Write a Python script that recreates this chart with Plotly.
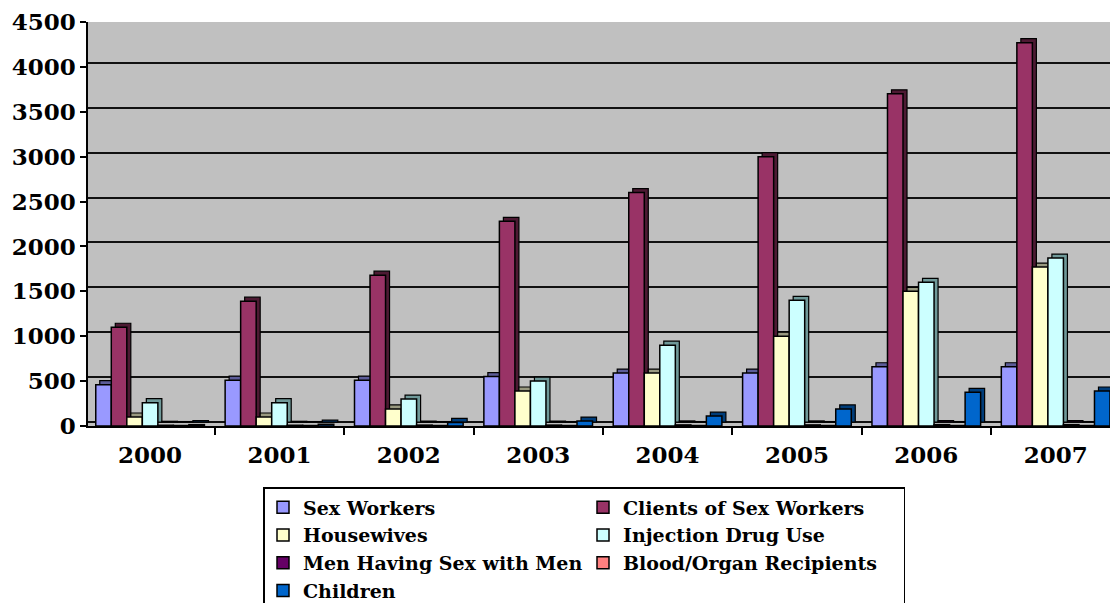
import plotly.graph_objects as go

# ---------------- data ----------------
years = ["2000", "2001", "2002", "2003", "2004", "2005", "2006", "2007"]
sex_workers = [460, 510, 510, 550, 590, 590, 660, 660]
clients_of_sex_workers = [1100, 1390, 1680, 2280, 2600, 3000, 3700, 4270]
housewives = [100, 100, 190, 390, 590, 1000, 1500, 1770]
injection_drug_use = [260, 260, 300, 500, 900, 1400, 1600, 1870]
men_having_sex_with_men = [8, 8, 10, 10, 12, 12, 15, 15]
blood_organ_recipients = [5, 5, 5, 5, 5, 5, 5, 5]
children = [15, 20, 40, 55, 110, 190, 375, 390]
y_tick_values = [0, 500, 1000, 1500, 2000, 2500, 3000, 3500, 4000, 4500]

series_names = ["Sex Workers", "Clients of Sex Workers", "Housewives",
                "Injection Drug Use", "Men Having Sex with Men",
                "Blood/Organ Recipients", "Children"]
series_values = [sex_workers, clients_of_sex_workers, housewives,
                 injection_drug_use, men_having_sex_with_men,
                 blood_organ_recipients, children]

# ---------------- styles ----------------
face_colors = ["#9999FF", "#993366", "#FFFFCC", "#CCFFFF", "#660066", "#FF8080", "#0066CC"]
side_colors = ["#5C5C99", "#4D1A33", "#999980", "#6F9999", "#330033", "#994D4D", "#003D7A"]
legend_groups = ["c1", "c2", "c1", "c2", "c1", "c2", "c1"]

W, H = 1110, 603
L, T, B, R = 88, 22, 177, 0
plot_w = W - L - R
plot_h = H - T - B
x_range = [-0.48, 7.42]
y_range = [0, 4500]
depth_px = 4
dx = depth_px * (x_range[1] - x_range[0]) / plot_w
dy = depth_px * (y_range[1] - y_range[0]) / plot_h

FONT = "DejaVu Serif"

fig = go.Figure()

# depth (side/top faces) drawn on the base axes, shifted back
for name, vals, col in zip(series_names, series_values, side_colors):
    fig.add_trace(go.Bar(
        x=years, y=vals, name=name, showlegend=False, hoverinfo="skip",
        marker=dict(color=col, line=dict(color="black", width=1.2)),
        xaxis="x", yaxis="y",
    ))

# front faces on the overlaying axes
for name, vals, col, grp in zip(series_names, series_values, face_colors, legend_groups):
    fig.add_trace(go.Bar(
        x=years, y=vals, name=name, legendgroup=grp,
        marker=dict(color=col, line=dict(color="black", width=1.5)),
        xaxis="x2", yaxis="y2",
    ))

fig.update_layout(
    width=W, height=H,
    margin=dict(l=L, r=R, t=T, b=B, pad=0, autoexpand=False),
    paper_bgcolor="white",
    plot_bgcolor="#C0C0C0",
    barmode="group", bargap=0.16, bargroupgap=0.0,
    showlegend=True,
    font=dict(family=FONT, color="black"),
    xaxis=dict(
        type="category", categoryorder="array", categoryarray=years,
        range=[x_range[0] - dx, x_range[1] - dx],
        visible=False, fixedrange=True,
    ),
    yaxis=dict(
        range=[y_range[0] - dy, y_range[1] - dy],
        tickvals=y_tick_values, showticklabels=False, ticks="",
        showgrid=True, gridcolor="#111111", gridwidth=2,
        zeroline=False, showline=False, fixedrange=True,
    ),
    xaxis2=dict(
        type="category", categoryorder="array", categoryarray=years,
        range=x_range, overlaying="x", anchor="y2", side="bottom",
        showline=True, linecolor="black", linewidth=1.5,
        ticks="outside", tickson="boundaries", ticklen=7, tickcolor="black", tickwidth=1.5,
        tickfont=dict(family=FONT, size=23, weight="bold", color="black"),
        ticklabelstandoff=8,
        showgrid=False, zeroline=False, fixedrange=True,
    ),
    yaxis2=dict(
        range=y_range, overlaying="y", anchor="x2", side="left",
        tickvals=y_tick_values,
        showline=True, linecolor="black", linewidth=1.5,
        ticks="outside", ticklen=6, tickcolor="black", tickwidth=1.5,
        tickfont=dict(family=FONT, size=23, weight="bold", color="black"),
        showgrid=False, zeroline=False, fixedrange=True,
    ),
    legend=dict(
        orientation="h", traceorder="grouped", tracegroupgap=0,
        entrywidth=275, entrywidthmode="pixels",
        x=(263 - L) / plot_w, xanchor="left",
        y=(T + plot_h - 487) / plot_h, yanchor="top",
        bgcolor="white", bordercolor="black", borderwidth=1.5,
        font=dict(family=FONT, size=19, weight="bold", color="black"),
        itemclick=False, itemdoubleclick=False,
    ),
)

fig.write_html("out.html")
